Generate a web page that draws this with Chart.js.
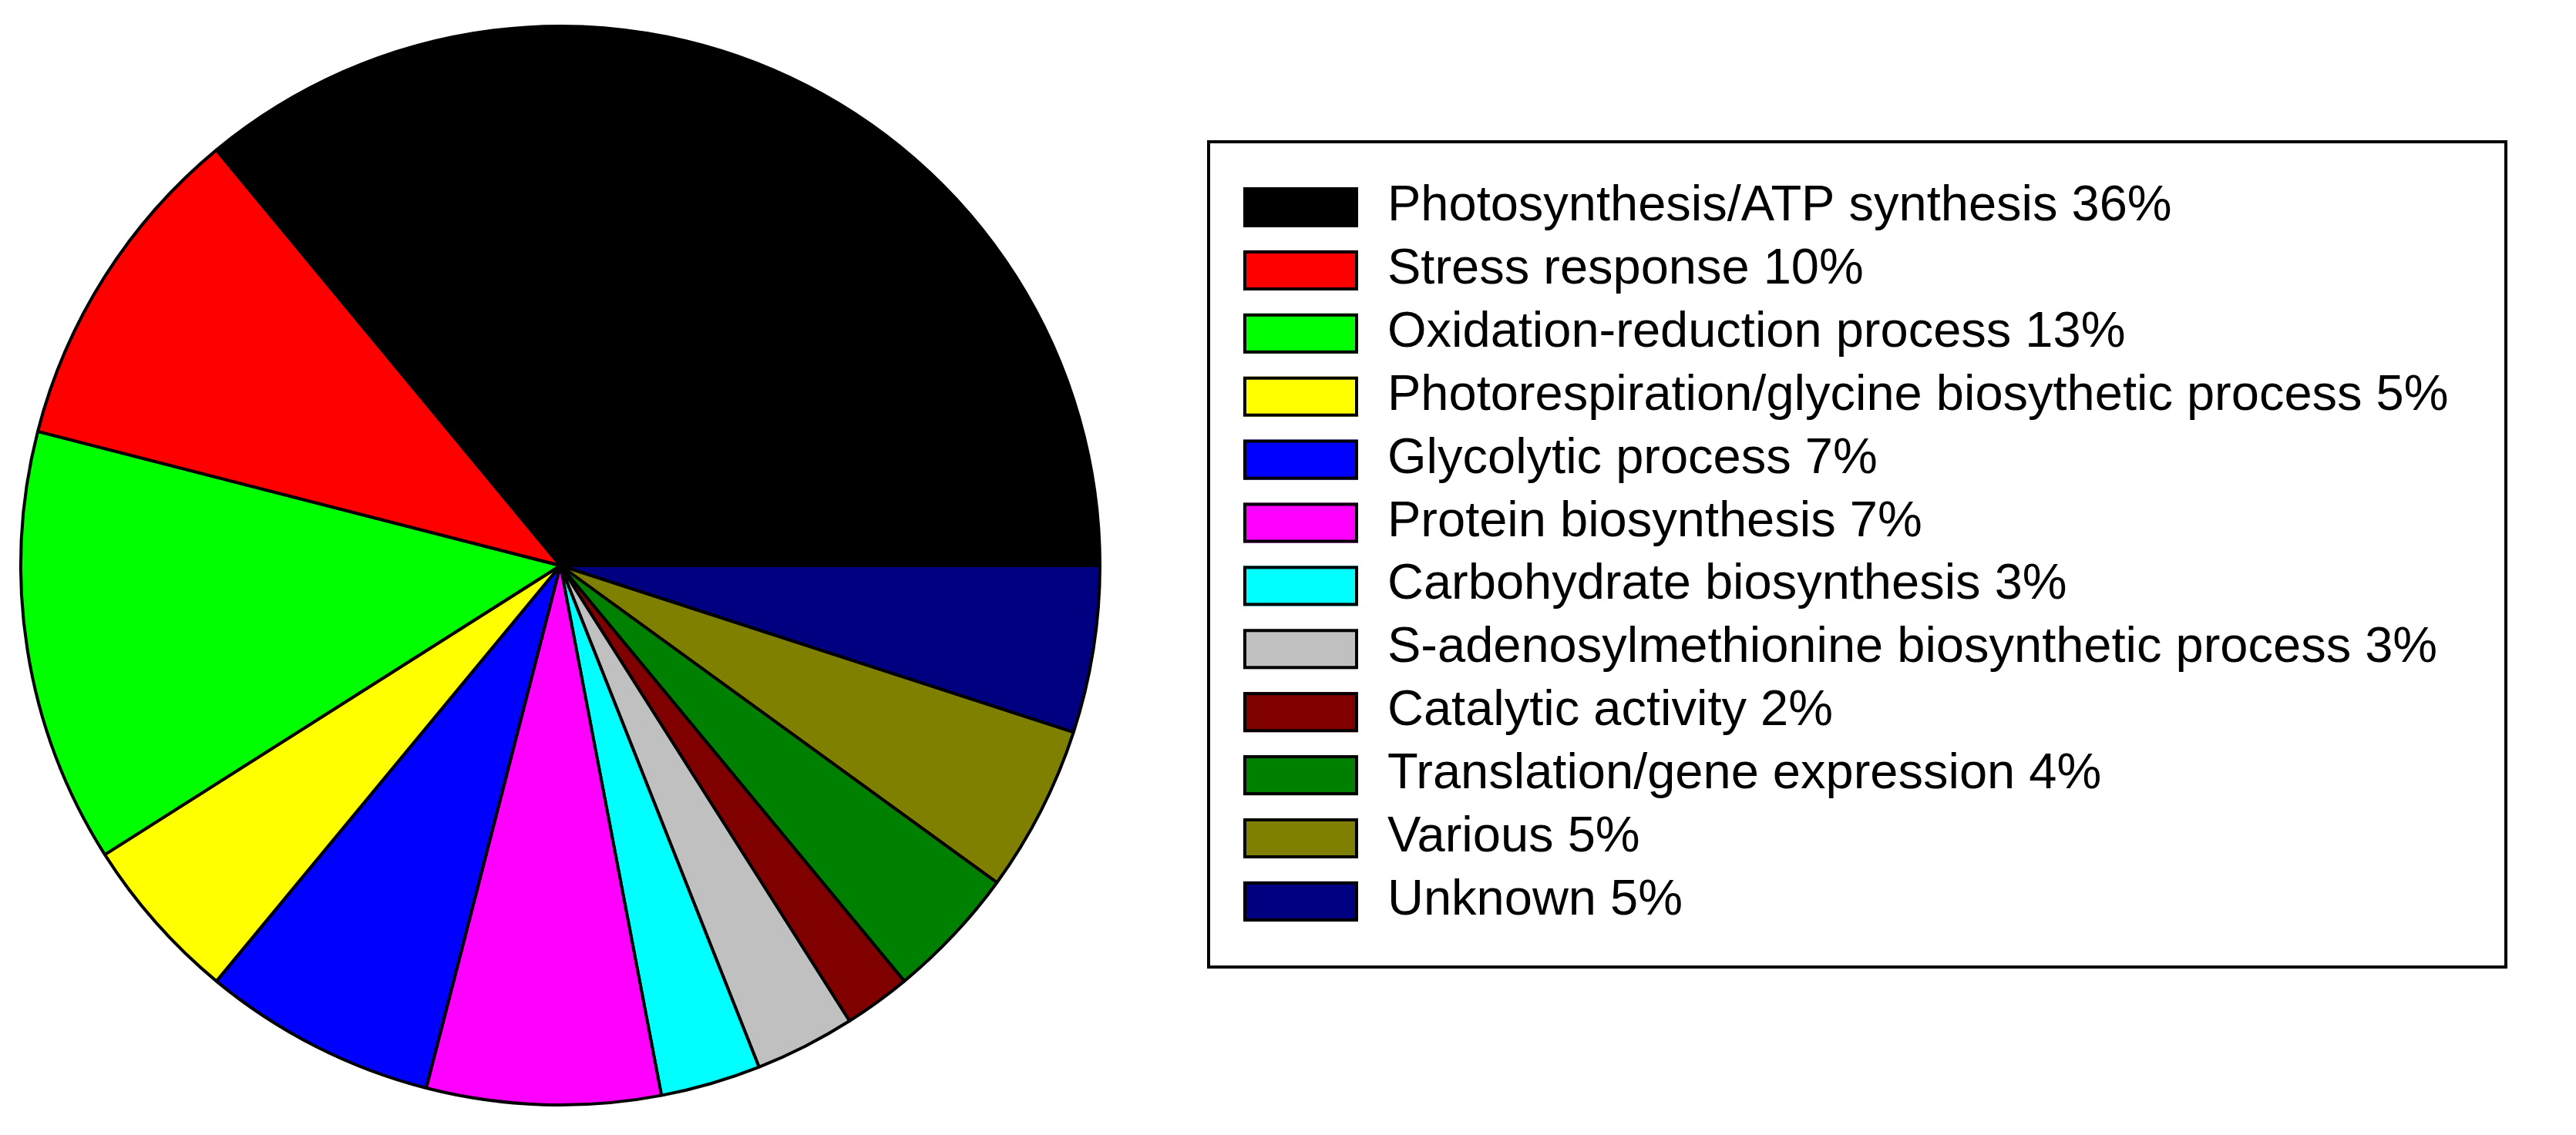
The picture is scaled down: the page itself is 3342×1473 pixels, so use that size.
<!DOCTYPE html>
<html>
<head>
<meta charset="utf-8">
<script src="https://cdn.jsdelivr.net/npm/chart.js@4"></script>
<style>
    html, body { margin: 0; padding: 0; background: #ffffff; }
    #chart { display: block; }
</style>
</head>
<body>
<canvas id="chart" width="3342" height="1473"></canvas>
<script>
// Categorias na ordem da legenda (sentido anti-horário a partir das 3 horas)
const categories = [
    'Photosynthesis/ATP synthesis',
    'Stress response',
    'Oxidation-reduction process',
    'Photorespiration/glycine biosythetic process',
    'Glycolytic process',
    'Protein biosynthesis',
    'Carbohydrate biosynthesis',
    'S-adenosylmethionine biosynthetic process',
    'Catalytic activity',
    'Translation/gene expression',
    'Various',
    'Unknown'
];
const percentages = [36, 10, 13, 5, 7, 7, 3, 3, 2, 4, 5, 5];
const sliceColors = [
    '#000000', '#ff0000', '#00ff00', '#ffff00', '#0000ff', '#ff00ff',
    '#00ffff', '#c0c0c0', '#800000', '#008000', '#808000', '#000080'
];

// Chart.js desenha no sentido horário, então invertemos a ordem
const pieLabels = categories.slice().reverse();
const pieValues = percentages.slice().reverse();
const pieColors = sliceColors.slice().reverse();

// Legenda com moldura desenhada no canvas
const boxLegendPlugin = {
    id: 'boxLegend',
    afterDraw(chart) {
        const ctx = chart.ctx;
        ctx.save();
        ctx.strokeStyle = '#000000';
        ctx.lineWidth = 4;
        ctx.strokeRect(1568, 184, 1683, 1071);

        ctx.font = '65px "Liberation Sans", Arial, sans-serif';
        ctx.textBaseline = 'alphabetic';
        ctx.textAlign = 'left';
        categories.forEach((name, i) => {
            const top = 243 + i * 81.9;
            ctx.fillStyle = sliceColors[i];
            ctx.fillRect(1613, top, 149, 52);
            ctx.strokeStyle = '#000000';
            ctx.lineWidth = 4;
            ctx.strokeRect(1615, top + 2, 145, 48);
            ctx.fillStyle = '#000000';
            ctx.fillText(name + ' ' + percentages[i] + '%', 1800, top + 43);
        });
        ctx.restore();
    }
};

const pieChart = new Chart(document.getElementById('chart').getContext('2d'), {
    type: 'pie',
    data: {
        labels: pieLabels,
        datasets: [{
            data: pieValues,
            backgroundColor: pieColors,
            borderColor: '#000000',
            borderWidth: 4,
            hoverOffset: 0,
            offset: 0
        }]
    },
    options: {
        responsive: false,
        animation: false,
        devicePixelRatio: 1,
        rotation: 90,
        events: [],
        layout: {
            padding: { left: 25, top: 32, right: 1913, bottom: 37 }
        },
        plugins: {
            legend: { display: false },
            tooltip: { enabled: false },
            title: { display: false }
        }
    },
    plugins: [boxLegendPlugin]
});
</script>
</body>
</html>
